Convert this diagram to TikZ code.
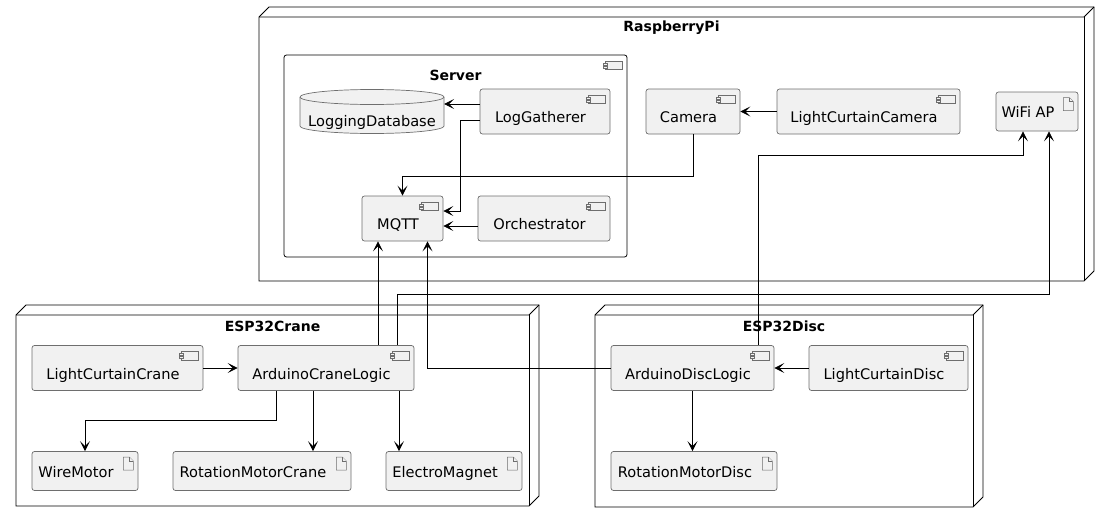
\documentclass[tikz,border=0pt]{standalone}
\usepackage{fontspec}
\setmainfont{DejaVu Sans}
\usetikzlibrary{arrows.meta}
\definecolor{boxfill}{RGB}{241,241,241}
\definecolor{boxline}{RGB}{110,110,110}

% small component glyph in the top right corner of a node
\newcommand{\compicon}[1]{%
  \draw[iconline] ([xshift=-22pt,yshift=-6.5pt]#1.north east) rectangle ++(17pt,-8.5pt);
  \draw[iconline] ([xshift=-24pt,yshift=-8.3pt]#1.north east) rectangle ++(4pt,-2pt);
  \draw[iconline] ([xshift=-24pt,yshift=-11.3pt]#1.north east) rectangle ++(4pt,-2pt);
}
% dog-eared page glyph for artifacts
\newcommand{\docicon}[1]{%
  \draw[iconline] ([xshift=-15pt,yshift=-6pt]#1.north east) -- ++(6pt,0) -- ++(4pt,-4pt)
    -- ++(0,-9pt) -- ++(-10pt,0) -- cycle;
  \draw[iconline] ([xshift=-9pt,yshift=-6pt]#1.north east) -- ++(0,-4pt) -- ++(4pt,0);
}
% 3D device box: left, top, right, bottom
\newcommand{\devicebox}[4]{%
  \draw[devline] (#1,#2+10) -- (#1+10,#2) -- (#3,#2) -- (#3,#4-10) -- (#3-10,#4) -- (#1,#4) -- cycle;
  \draw[devline] (#1,#2+10) -- (#3-10,#2+10) -- (#3,#2);
  \draw[devline] (#3-10,#2+10) -- (#3-10,#4);
}

\begin{document}
\begin{tikzpicture}[
    x=1pt, y=-1pt,
    every node/.style={font=\fontsize{14.6pt}{17pt}\selectfont},
    comp/.style={
      rectangle,
      draw=boxline,
      fill=boxfill,
      line width=0.7pt,
      rounded corners=2.5pt,
      minimum height=45pt,
      inner xsep=3pt, inner ysep=1pt,
      text height=25pt, text depth=3pt,
      execute at end node=\hspace{9pt}
    },
    artifact/.style={
      comp,
      minimum height=39pt,
      text height=15pt, text depth=3pt,
      execute at end node=\hspace{9pt}
    },
    dbtext/.style={
      minimum width=144pt, minimum height=44pt,
      inner sep=0pt, text height=33pt, text depth=3pt
    },
    devtitle/.style={font=\fontsize{14pt}{17pt}\selectfont\bfseries, anchor=base},
    devline/.style={line width=0.8pt, black},
    iconline/.style={line width=0.6pt, draw=boxline, fill=boxfill},
    flow/.style={
      line width=0.8pt,
      -{Stealth[length=10pt, width=10pt, inset=5pt]}
    }
  ]
  \useasboundingbox (0,0) rectangle (1111,522);

  % Devices
  \devicebox{259}{7}{1094}{281}
  \devicebox{16}{305}{539}{506}
  \devicebox{595}{305}{983}{507}
  \node[devtitle] (rpi) at (671.5,31) {RaspberryPi};
  \node[devtitle] (esp32crane) at (272.5,331) {ESP32Crane};
  \node[devtitle] (esp32disc) at (784,331) {ESP32Disc};

  % Server
  \node[draw, line width=0.8pt, rounded corners=2.5pt, minimum width=343pt, minimum height=202pt] (server) at (455.5,156) {};
  \node[devtitle] (servertitle) at (455.5,80) {Server};
  \compicon{server}

  % Database
  \filldraw[draw=boxline, fill=boxfill, line width=0.7pt] (300,97) -- (300,126)
    arc[start angle=180, end angle=360, x radius=72pt, y radius=7.5pt] -- (444,97);
  \filldraw[draw=boxline, fill=boxfill, line width=0.7pt] (372,97) ellipse[x radius=72pt, y radius=7.5pt];
  \node[dbtext] (logdb) at (372,111) {LoggingDatabase};

  % Components
  \node[comp, minimum width=130pt] (loggath) at (545,111.5) {LogGatherer};
  \node[comp, minimum width=81pt] (mqtt) at (402.5,218.5) {MQTT};
  \node[comp, minimum width=132pt] (orch) at (544,218.5) {Orchestrator};
  \node[comp, minimum width=94pt] (camera) at (693,111.5) {Camera};
  \node[comp, minimum width=183pt] (lccam) at (868.5,111.5) {LightCurtainCamera};
  \node[comp, minimum width=171pt] (lccrane) at (117.5,368) {LightCurtainCrane};
  \node[comp, minimum width=176pt] (crane) at (326,368) {ArduinoCraneLogic};
  \node[comp, minimum width=163pt] (disc) at (692.5,368) {ArduinoDiscLogic};
  \node[comp, minimum width=159pt] (lcdisc) at (888.5,368) {LightCurtainDisc};
  \foreach \n in {loggath, mqtt, orch, camera, lccam, lccrane, crane, disc, lcdisc}
    {\compicon{\n}}

  % Artifacts
  \node[artifact, minimum width=82pt] (wifi) at (1037,111.5) {WiFi AP};
  \node[artifact, minimum width=106pt] (wire) at (85,471) {WireMotor};
  \node[artifact, minimum width=178pt] (rmcrane) at (262,471) {RotationMotorCrane};
  \node[artifact, minimum width=136pt] (magnet) at (454,471) {ElectroMagnet};
  \node[artifact, minimum width=166pt] (rmdisc) at (694,471) {RotationMotorDisc};
  \foreach \n in {wifi, wire, rmcrane, magnet, rmdisc}
    {\docicon{\n}}

  % Links
  \draw[flow] ([yshift=7.5pt]loggath.west) -- ([yshift=7.5pt]loggath.west -| logdb.east);
  \draw[flow] ([yshift=-8.5pt]loggath.west) -- ++(-19pt,0) |- ([yshift=7.5pt]mqtt.east);
  \draw[flow] ([yshift=-7.5pt]orch.west) -- ([yshift=-7.5pt]orch.west -| mqtt.east);
  \draw[flow] (camera.south) -- ++(0,-42pt) -| (mqtt.north);
  \draw[flow] (lccam) -- (camera);
  \draw[flow] ([xshift=52pt]crane.north) -- ([xshift=52pt]crane.north |- mqtt.south);
  \draw[flow] (disc.west) -| ([xshift=25pt]mqtt.south);
  \draw[flow] ([xshift=71pt]crane.north) -- ++(0,51pt) -| ([xshift=12pt]wifi.south);
  \draw[flow] ([xshift=65.5pt]disc.north) -- ++(0,190pt) -| ([xshift=-14pt]wifi.south);
  \draw[flow] (lccrane) -- (crane);
  \draw[flow] ([xshift=-50pt]crane.south) -- ++(0,-30pt) -| (wire.north);
  \draw[flow] ([xshift=-13pt]crane.south) -- ([xshift=-13pt]crane.south |- rmcrane.north);
  \draw[flow] ([xshift=73pt]crane.south) -- ([xshift=73pt]crane.south |- magnet.north);
  \draw[flow] (lcdisc) -- (disc);
  \draw[flow] (disc.south) -- (disc.south |- rmdisc.north);
\end{tikzpicture}
\end{document}
